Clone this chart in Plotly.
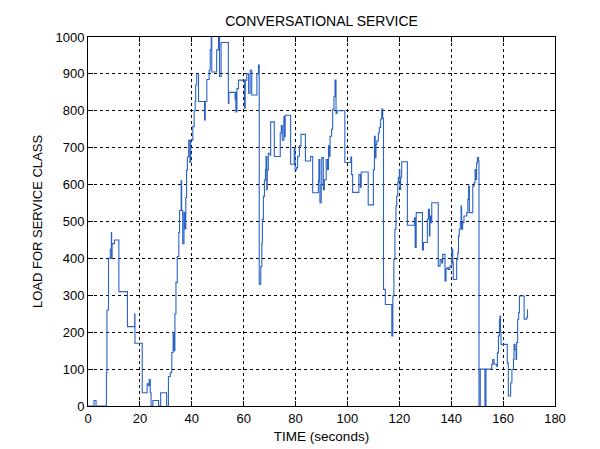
import plotly.graph_objects as go

# time (seconds) at which the load changes, and the load from that time on
time_s = [
    0, 2.3, 3.1, 7.1, 7.3, 7.9, 8.6, 9.0, 9.1, 9.3, 10.2, 11.9, 15.2, 18.0, 18.1,
    20.9, 22.8, 23.3, 23.6, 24.0, 24.3, 25.0, 27.2, 28.0, 30.3,
    31.0, 31.7, 32.3, 32.8, 33.2, 33.5, 33.9, 34.4, 35.0, 35.3, 35.9, 36.1, 36.5,
    37.0, 37.3, 37.7, 38.0, 38.3, 38.8, 39.3, 39.6, 40.4, 40.9, 41.3, 41.5, 41.9,
    42.6, 44.9, 45.2, 45.8, 46.7, 47.1, 47.5, 47.7, 49.6, 50.3, 50.7, 51.3,
    54.1, 54.3, 56.7, 56.8, 57.0, 57.4, 58.0, 60.3, 60.6, 61.2, 61.9, 62.5, 63.1,
    65.1, 65.7, 66.0, 66.6, 67.0, 67.2, 67.6, 68.0, 68.4, 68.6, 68.9, 69.1, 69.5,
    70.2, 70.4, 71.8, 74.1, 74.5, 74.9, 75.5, 75.8, 76.0,
    78.1, 79.5, 79.8, 80.4, 80.8, 81.5, 82.1, 83.8, 85.8, 86.6, 88.8, 89.0, 89.4,
    89.9, 90.1, 90.7, 91.1, 91.8, 92.3, 92.7, 93.0, 93.3, 93.9, 94.3, 94.8, 95.2,
    95.6, 96.0, 99.0, 101.3, 101.6, 102.0, 104.4, 105.0, 105.3, 108.0, 110.0,
    110.4, 110.7, 111.0, 111.3, 111.9, 112.3, 112.8, 113.2, 113.6, 113.9, 114.6,
    117.1, 117.5, 117.9, 118.3, 118.7, 119.0, 119.4, 119.6, 120.0, 120.2, 120.5,
    120.9, 123.1, 125.8, 126.1, 126.5, 128.9, 129.3, 130.8, 131.2, 131.6, 131.8,
    132.2, 132.5, 135.0, 135.7, 136.3, 136.7, 137.6, 138.0, 138.5, 138.9, 139.5,
    140.2, 140.6, 140.8, 142.1, 142.5, 142.8, 143.1, 143.5, 143.8, 144.0, 144.4,
    144.9, 146.0, 146.4, 146.7, 147.0, 148.3, 148.8, 149.2, 149.6, 149.8, 150.1,
    150.5, 150.7, 151.2, 153.0, 153.4, 155.6, 156.0, 156.5, 157.5, 157.8, 158.2,
    158.6, 158.8, 159.0, 159.2, 161.6, 162.0, 162.9, 163.4, 164.0, 164.2, 164.6,
    165.0, 165.2, 165.6, 166.0, 166.3, 168.1, 169.1, 169.4,
]
load = [
    0, 15, 0, 90, 260, 400, 425, 470, 400, 440, 450, 310, 215, 250, 170,
    36, 60, 55, 72, 36, 0, 15, 0, 36, 0,
    80, 90, 145, 200, 150, 250, 335, 405, 470, 530, 610, 530, 440,
    525, 480, 565, 640, 675, 720, 660, 720, 757, 800, 825, 870, 900,
    825, 775, 825, 885, 910, 965, 1000, 905, 965, 1000, 893, 985,
    820, 850, 830, 850, 797, 860, 883, 807, 883, 900, 848, 910, 843,
    900, 924, 330, 378, 441, 505, 568, 612, 640, 676, 586, 640, 685,
    680, 770, 676, 740, 760, 720, 784, 730, 788,
    655, 700, 640, 646, 677, 705, 736, 664, 676, 578, 610, 668, 551,
    600, 673, 586, 613, 668, 641, 705, 677, 731, 750, 804, 838, 883,
    793, 800, 660, 675, 627, 579, 627, 593, 634, 545, 640,
    731, 673, 709, 718, 740, 755, 777, 805, 780, 316, 275,
    190, 298, 397, 479, 542, 569, 605, 619, 640, 587, 620,
    662, 490, 510, 430, 524, 423, 443, 506, 533, 461, 515,
    497, 551, 379, 397, 388, 411, 339, 372, 375, 370, 379,
    425, 388, 343, 397, 415, 461, 479, 497, 542, 479, 497,
    515, 524, 560, 596, 524, 596, 605, 641, 614, 659, 673,
    664, 0, 100, 0, 100, 113, 126, 113, 108, 144, 190,
    235, 244, 200, 167, 117, 27, 63, 99, 126, 167, 153,
    126, 172, 235, 253, 298, 235, 240, 262,
]

x_ticks = [0, 20, 40, 60, 80, 100, 120, 140, 160, 180]
y_ticks = [0, 100, 200, 300, 400, 500, 600, 700, 800, 900, 1000]

FONT = "Liberation Sans, Arial, sans-serif"

fig = go.Figure(
    go.Scatter(
        x=time_s, y=load, mode="lines", line_shape="hv",
        line=dict(color="#2a62c6", width=1.1), hoverinfo="skip",
    )
)

axis_common = dict(
    showline=True, linecolor="black", linewidth=1, mirror="ticks",
    ticks="inside", ticklen=5, tickcolor="black", automargin=False,
    showgrid=True, gridcolor="black", gridwidth=1, griddash="3px,3px",
    zeroline=False, tickfont=dict(family=FONT, size=13, color="black"),
)

fig.update_layout(
    width=600, height=449,
    margin=dict(l=88, r=45, t=37, b=43),
    paper_bgcolor="white", plot_bgcolor="white",
    showlegend=False,
    font=dict(family=FONT, size=13, color="black"),
    title=dict(text="CONVERSATIONAL SERVICE", x=0.5, xref="paper",
               y=1 - 21 / 449, yref="container", yanchor="middle",
               font=dict(family=FONT, size=14, color="black")),
    xaxis=dict(range=[0, 180], tickvals=x_ticks, ticktext=[str(v) for v in x_ticks],
               title=dict(text="TIME (seconds)", standoff=6,
                          font=dict(family=FONT, size=13.5)),
               **axis_common),
    yaxis=dict(range=[0, 1000], tickvals=y_ticks, ticktext=[str(v) for v in y_ticks],
               title=dict(text="LOAD FOR SERVICE CLASS", standoff=9,
                          font=dict(family=FONT, size=13)),
               **axis_common),
)

fig.write_html("out.html")
